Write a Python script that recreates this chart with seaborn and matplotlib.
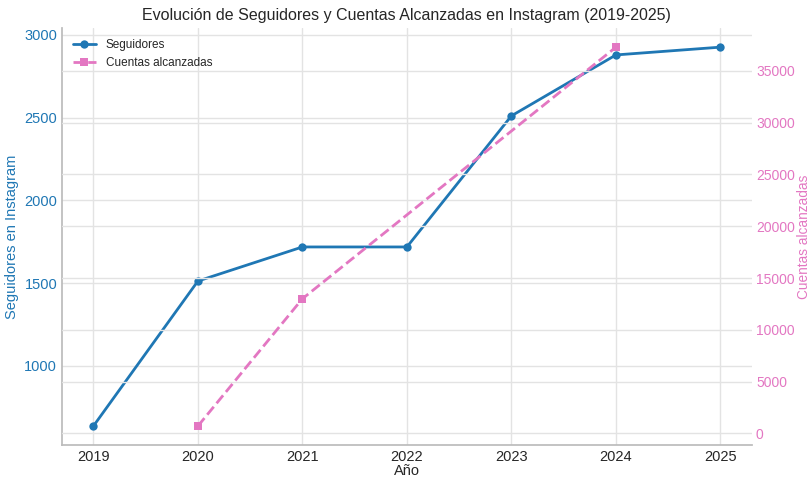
import matplotlib.pyplot as plt
import seaborn as sns

# Datos
years = [2019, 2020, 2021, 2022, 2023, 2024, 2025]
seguidores = [636, 1512, 1718, 1718, 2510, 2878, 2925]

years_cuentas = [2020, 2021, 2024]
cuentas = [700, 13000, 37300]

BLUE = "#1f77b4"
PINK = "#e377c2"

sns.set_theme(style="whitegrid")
plt.rcParams["font.family"] = ["Liberation Sans", "DejaVu Sans"]
plt.rcParams["grid.color"] = "#e3e3e3"

fig, ax = plt.subplots(figsize=(8.11, 4.78), dpi=100)

sns.lineplot(x=years, y=seguidores, ax=ax, color=BLUE, marker="o",
             markersize=6, markeredgewidth=0, linewidth=2, label="Seguidores",
             legend=False)
ax.set_xlabel("Año", fontsize=10.5, labelpad=0)
ax.set_ylabel("Seguidores en Instagram", color=BLUE, fontsize=10.5)
ax.tick_params(axis="y", labelcolor=BLUE, labelsize=10.5, length=0)
ax.tick_params(axis="x", labelsize=10.5, length=0)
ax.set_xticks(years)

ax2 = ax.twinx()
sns.lineplot(x=years_cuentas, y=cuentas, ax=ax2, color=PINK, marker="s",
             markersize=6, markeredgewidth=0, linewidth=2, linestyle="--",
             label="Cuentas alcanzadas", legend=False)
ax2.set_ylabel("Cuentas alcanzadas", color=PINK, fontsize=9.8)
ax2.yaxis.set_label_coords(1.0655, 0.5)
ax2.tick_params(axis="y", labelcolor=PINK, labelsize=10, length=0, pad=3)

for a in (ax, ax2):
    a.spines["top"].set_visible(False)
    a.spines["right"].set_visible(False)
ax2.spines["left"].set_visible(False)
ax2.spines["bottom"].set_visible(False)
for s in ("left", "bottom"):
    ax.spines[s].set_color("#bbbbbb")

h1, l1 = ax.get_legend_handles_labels()
h2, l2 = ax2.get_legend_handles_labels()
ax.legend(h1 + h2, l1 + l2, loc="upper left", fontsize=8.5, frameon=False)

ax.set_title("Evolución de Seguidores y Cuentas Alcanzadas en Instagram (2019-2025)",
             fontsize=11.5, pad=6)

fig.subplots_adjust(left=0.0765, right=0.927, top=0.941, bottom=0.069)
fig.savefig("out.png", dpi=100)
